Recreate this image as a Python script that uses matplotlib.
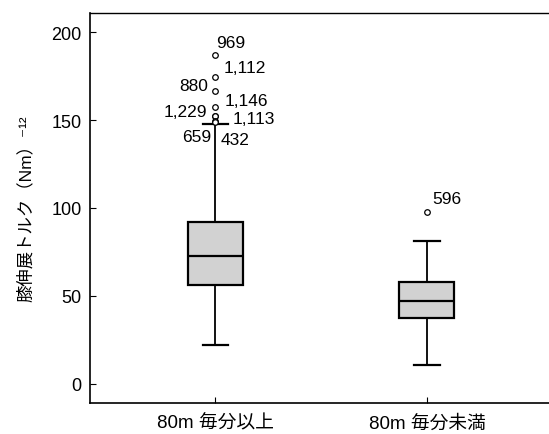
import matplotlib
matplotlib.use('Agg')
import matplotlib.pyplot as plt

plt.rcParams['font.family'] = ['Liberation Sans', 'Noto Sans CJK JP', 'DejaVu Sans']

# data
groups = ['80m 毎分以上', '80m 毎分未満']
q1 = [56, 37.5]
med = [72.7, 47]
q3 = [92, 58]
whislo = [22, 11]
whishi = [148, 81]
outliers = [[187, 174.5, 166.5, 157.5, 152.5, 152, 149.5, 149], [97.5]]
outlier_ids = [['969', '1,112', '880', '1,146', '1,229', '1,113', '659', '432'], ['596']]
# label offsets (points) from each outlier
label_offsets = [[(11, 8.6), (21, 6.4), (-15.5, 3.6), (22, 4.9), (-22, 2.6), (27.7, -1.1), (-13.3, -11.6), (14, -13.1)],
                 [(14, 10)]]

fig = plt.figure(figsize=(5.49, 4.35), dpi=100)
ax = fig.add_axes([0.164, 0.0713, 0.836, 0.8965])

stats = []
for i in range(len(groups)):
    stats.append({'q1': q1[i], 'med': med[i], 'q3': q3[i],
                  'whislo': whislo[i], 'whishi': whishi[i], 'fliers': outliers[i]})

ax.bxp(stats, positions=[1, 2], widths=0.26, capwidths=0.12, patch_artist=True,
       boxprops=dict(facecolor='#d2d2d2', edgecolor='black', linewidth=1.6),
       medianprops=dict(color='black', linewidth=1.6),
       whiskerprops=dict(color='black', linewidth=1.3),
       capprops=dict(color='black', linewidth=1.6),
       flierprops=dict(marker='o', markersize=4, markerfacecolor='white',
                       markeredgecolor='black', markeredgewidth=0.9))

for i in range(len(groups)):
    for v, name, off in zip(outliers[i], outlier_ids[i], label_offsets[i]):
        ax.annotate(name, xy=(i + 1, v), xytext=off, textcoords='offset points',
                    ha='center', va='center', fontsize=12.5)

ax.set_xlim(0.407, 2.577)
ax.set_ylim(-10.8, 210.8)
ax.set_yticks([0, 50, 100, 150, 200])
ax.set_xticks([1, 2])
ax.set_xticklabels(groups, fontsize=13.5)
ax.tick_params(axis='both', direction='in', length=4, width=0.8)
ax.tick_params(axis='y', pad=6, labelsize=13)
ax.tick_params(axis='x', pad=8)
ax.set_ylabel('膝伸展トルク（Nm）⁻¹²', fontsize=12.5, labelpad=13)

ax.spines['right'].set_visible(False)
for s in ['left', 'bottom']:
    ax.spines[s].set_linewidth(1.2)
ax.spines['top'].set_linewidth(1.0)

fig.savefig('out.png', dpi=100)
